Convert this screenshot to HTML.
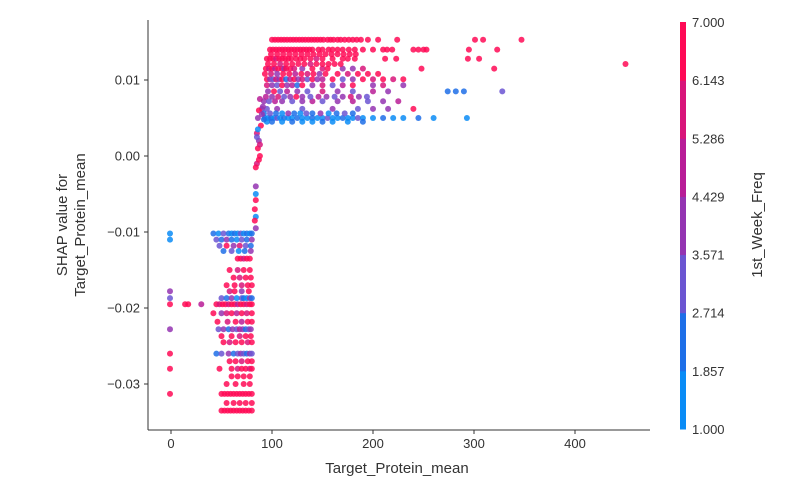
<!DOCTYPE html>
<html><head><meta charset="utf-8"><style>
html,body{margin:0;padding:0;background:#fff;}
svg{display:block;font-family:"Liberation Sans","DejaVu Sans",sans-serif;}
</style></head><body>
<svg id="chart" width="786" height="486" viewBox="0 0 786 486" xmlns="http://www.w3.org/2000/svg">
<g id="points"></g>
<g id="axes"></g>
<g id="cbar"></g>
</svg>
<script>
const xTicks=[0,100,200,300,400];
const yTicks=[0.01,0.00,-0.01,-0.02,-0.03];
const yTickLabels=["0.01","0.00","\u22120.01","\u22120.02","\u22120.03"];
const cbTickLabels=["1.000","1.857","2.714","3.571","4.429","5.286","6.143","7.000"];
const bandColors=["#0a8cf6","#1e6fe8","#6b55d2","#9434b2","#b81d97","#d8157a","#ff0a56"];
// rows: shap value, x values, 1st_Week_Freq values
const rowShap=[0.0153,0.0140,0.0128,0.0115,0.0101,0.0093,0.0085,0.0072,0.0062,0.0050,0.0045,
 -0.0102,-0.0110,-0.0118,-0.0135,-0.0160,-0.0178,-0.0187,-0.0195,-0.0207,-0.0228,-0.0245,-0.0260,-0.0280,-0.0300,-0.0313,-0.0335,
 0.0134,0.0121,0.0108,0.0078,0.0056,-0.0150,-0.0170,-0.0218,-0.0237,-0.0270,-0.0290,-0.0325,-0.0125];
const rowX=[
 [100,103,106,109,112,115,118,121,124,127,130,133,136,139,142,145,148,151,155,158,161,165,168,172,176,180,184,188,195,205,224,301,309,347],
 [98,101,104,107,110,113,116,119,122,125,128,131,134,137,140,146,150,156,160,165,170,176,182,190,200,210,214,219,240,245,250,253,295,323],
 [95,98,101,104,107,110,113,116,119,124,128,132,138,144,150,160,170,175,182,212,223,294,305],
 [94,97,100,103,106,110,112,114,118,122,130,140,150,155,170,180,190,248,320],
 [95,98,101,104,107,110,114,118,122,126,130,135,140,145,150,160,170,180,190,200,210,220,230],
 [95,100,105,110,115,120,125,130,140,150,160,170,180,200,210,230],
 [96,102,108,115,125,135,150,165,180,200,215,274,282,290,328],
 [92,97,103,110,120,130,140,150,165,180,195,210,225],
 [90,95,105,130,160,185,200,215,240],
 [93,96,99,102,105,108,112,116,120,125,130,135,140,145,150,155,160,165,170,175,180,185,190,200,210,220,230,245,260,293],
 [95,100,110,120,130,140,150,160,175,190],
 [-1,42,47,52,57,60,63,66,69,72,75,78,80],
 [-1,45,50,55,60,65,70,75,80],
 [48,55,62,68,74,79],
 [66,69,72,75,78],
 [62,68,74,79],
 [-1,58,63,70,77],
 [-1,50,55,60,65,70,72,75,78,80],
 [-1,14,17,30,45,48,51,54,57,60,63,66,69,72,75,78,80],
 [42,50,55,60,65,70,75,80],
 [-1,47,52,57,61,65,68,71,74,77,79],
 [52,58,64,70,76,80],
 [-1,45,50,57,62,66,69,72,75,78,80],
 [-1,48,60,66,70,74,78,80],
 [55,64,72,78],
 [-1,50,53,56,59,62,65,68,71,74,77,80],
 [50,53,56,59,62,65,68,71,74,77,80],
 [99,105,111,117,123,129,135,141,147,153,159,165,171,177,183],
 [96,102,108,114,120,126,132,138,144,150,156,162,168,450],
 [93,99,105,111,117,123,129,135,141,147,153,165,175,185,195,205],
 [94,100,106,112,118,124,130,138,146,154,162,170,178,186,194],
 [92,98,104,110,116,122,128,134,140,148,156,164,172,180],
 [58,66,72,78],
 [55,63,70,76,80],
 [46,56,64,70,76,80],
 [50,60,68,74,79],
 [58,64,70,76,80],
 [60,66,72,78],
 [55,62,68,74,80],
 [52,60,67,73,79]
];
const rowFreq=[
 [7,7,7,7,7,7,7,7,7,7,7,7,7,7,7,7,7,7,7,7,7,7,7,7,7,7,7,7,7,7,7,7,7,7],
 [7,7,7,7,7,7,7,7,7,7,7,7,7,7,7,7,7,7,7,7,7,7,7,7,7,7,7,7,7,7,7,7,7,7],
 [7,7,7,6,7,7,7,7,7,7,7,7,7,6,7,7,7,7,7,7,7,7,7],
 [7,6,7,5,7,7,4,7,7,6,4,7,6,7,4,4,6,7,7],
 [7,4,3,6,4,7,2,5,7,4,6,3,7,4,5,7,3,4,7,6,7,6,7],
 [6,4,3,7,4,5,2,7,4,6,3,5,7,4,6,4],
 [4,7,3,5,4,3,6,4,3,5,4,2,2,2,3],
 [4,3,5,4,3,4,5,3,4,5,3,4,5],
 [4,3,4,3,4,3,4,4,7],
 [2,1,2,1,3,1,2,1,1,2,1,1,2,1,1,3,1,1,2,1,1,3,1,1,2,1,1,2,1,1],
 [1,2,1,2,1,1,2,1,1,2],
 [1,2,1,3,2,1,2,1,3,1,2,1,2],
 [1,3,2,4,2,1,3,2,4],
 [3,7,4,6,3,2],
 [7,7,6,7,7],
 [7,6,7,7],
 [4,6,7,4,7],
 [3,3,2,4,1,3,2,1,4,2],
 [7,7,7,5,7,6,7,7,6,7,7,5,7,7,6,7,7],
 [7,4,6,7,5,7,6,7],
 [4,3,4,2,4,3,5,4,2,3,4],
 [7,6,7,7,6,7],
 [7,2,3,4,2,3,4,3,2,4,3],
 [7,7,7,6,7,7,6,7],
 [7,7,7,7],
 [7,7,7,7,7,7,7,7,7,7,7,7],
 [7,7,7,7,7,7,7,7,7,7,7],
 [7,7,7,7,7,7,7,7,7,7,7,7,7,7,7],
 [7,7,6,7,7,7,7,6,7,7,7,7,7,7],
 [7,6,4,7,7,5,7,6,7,4,7,7,6,7,7,7],
 [5,4,6,3,4,7,4,3,5,4,3,4,6,4,3],
 [2,3,2,1,4,2,1,3,2,4,1,2,3,2],
 [7,6,7,7],
 [7,7,6,7,7],
 [7,6,7,5,7,7],
 [7,7,6,7,7],
 [7,7,6,7,7],
 [7,7,7,7],
 [7,7,7,7,7],
 [2,3,1,2,4]
];
// extra steep-region points
const steepX=[88,87,86,89,85,87,86,88,85,87,84,85,90,92,84,84,84,83,84,83,84,86,88,91];
const steepShap=[0.0075,0.006,0.005,0.004,0.003,0.002,0.001,0.0,-0.001,-0.0005,-0.0015,0.0025,0.0055,0.0048,-0.004,-0.005,-0.0058,-0.007,-0.008,-0.0085,-0.0095,0.0035,0.0015,0.0065];
const steepFreq=[5,7,4,7,6,4,7,7,6,7,7,3,4,2,4,1,7,7,1,7,4,1,6,4];

const NS="http://www.w3.org/2000/svg";
const L=148,R=650,T=20,B=430;
const X=v=>171+1.01*v;
const Y=s=>156-7600*s;
function col(f){let i=Math.min(6,Math.max(0,Math.floor((f-1)/(6/7))));return bandColors[i];}
function mk(tag,attrs,parent){const e=document.createElementNS(NS,tag);for(const k in attrs)e.setAttribute(k,attrs[k]);parent.appendChild(e);return e;}
const pts=document.getElementById('points');
function dot(x,s,f){const c=mk('circle',{cx:X(x).toFixed(1),cy:Y(s).toFixed(1),r:3,fill:col(f),'fill-opacity':0.85},pts);

}
rowShap.forEach((s,i)=>rowX[i].forEach((x,j)=>dot(x,s,rowFreq[i][j])));
steepX.forEach((x,i)=>dot(x,steepShap[i],steepFreq[i]));

const ax=document.getElementById('axes');
let e=mk('line',{x1:L,y1:T,x2:L,y2:B,stroke:'#333','stroke-width':1},ax);

e=mk('line',{x1:L,y1:B,x2:R,y2:B,stroke:'#333','stroke-width':1},ax);

xTicks.forEach(v=>{mk('line',{x1:X(v),y1:B,x2:X(v),y2:B+4,stroke:'#333'},ax);
 const t=mk('text',{x:X(v),y:B+18,'text-anchor':'middle','font-size':13,fill:'#333'},ax);t.textContent=v;
 });
yTicks.forEach((v,i)=>{mk('line',{x1:L-4,y1:Y(v),x2:L,y2:Y(v),stroke:'#333'},ax);
 const t=mk('text',{x:L-8,y:Y(v)+4.5,'text-anchor':'end','font-size':13,fill:'#333'},ax);t.textContent=yTickLabels[i];
 });
e=mk('text',{x:397,y:473,'text-anchor':'middle','font-size':15,fill:'#333'},ax);e.textContent='Target_Protein_mean';

e=mk('text',{transform:'translate(67,225) rotate(-90)','text-anchor':'middle','font-size':15,fill:'#333'},ax);e.textContent='SHAP value for';

e=mk('text',{transform:'translate(85,225) rotate(-90)','text-anchor':'middle','font-size':15,fill:'#333'},ax);e.textContent='Target_Protein_mean';


const cb=document.getElementById('cbar');
const cT=22,cB=429,h=(cB-cT)/7;
bandColors.forEach((c,i)=>{const r=mk('rect',{x:680,y:(cB-(i+1)*h).toFixed(2),width:6,height:(h+0.5).toFixed(2),fill:c},cb);
 });
cbTickLabels.forEach((l,i)=>{const t=mk('text',{x:692,y:cB-i*h+5,'font-size':13,fill:'#333'},cb);t.textContent=l;
 });
e=mk('text',{transform:'translate(762,225) rotate(-90)','text-anchor':'middle','font-size':15,fill:'#333'},cb);e.textContent='1st_Week_Freq';

</script>
</body></html>
